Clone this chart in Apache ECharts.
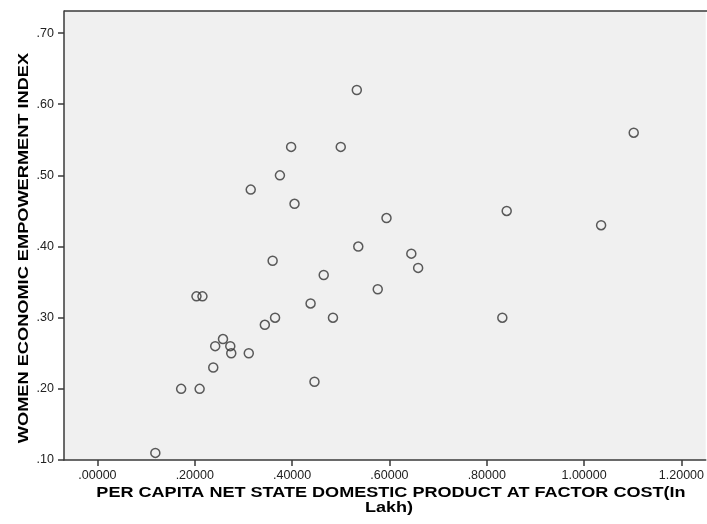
<!DOCTYPE html>
<html>
<head>
<meta charset="utf-8">
<script src="https://cdn.jsdelivr.net/npm/echarts@6/dist/echarts.min.js"></script>
<style>html,body{margin:0;padding:0;background:#fff}#c{width:707px;height:524px}</style>
</head>
<body>
<div id="c"></div>
<script>
const xValues = [0.119,0.172,0.210,0.238,0.242,0.258,0.273,0.275,0.311,0.2035,0.2158,0.344,0.365,0.360,0.438,0.446,0.465,0.484,0.536,0.576,0.645,0.659,0.594,0.405,0.315,0.375,0.398,0.500,0.533,0.841,1.035,1.102,0.832];
const yValues = [0.11,0.20,0.20,0.23,0.26,0.27,0.26,0.25,0.25,0.33,0.33,0.29,0.30,0.38,0.32,0.21,0.36,0.30,0.40,0.34,0.39,0.37,0.44,0.46,0.48,0.50,0.54,0.54,0.62,0.45,0.43,0.56,0.30];
const xTicks = [0,0.2,0.4,0.6,0.8,1.0,1.2];
const yTicks = [0.1,0.2,0.3,0.4,0.5,0.6,0.7];
const xTitle1 = 'PER CAPITA NET STATE DOMESTIC PRODUCT AT FACTOR COST(In';
const xTitle2 = 'Lakh)';
const yTitle = 'WOMEN ECONOMIC EMPOWERMENT INDEX';

const pts = xValues.map((x,i)=>[x,yValues[i]]);
const fmtX = v => { let s = Number(v).toFixed(5); return s.startsWith('0') ? s.slice(1) : s; };
const fmtY = v => { let s = Number(v).toFixed(2); return s.startsWith('0') ? s.slice(1) : s; };
const titleFont = {fontFamily:'Liberation Sans, Arial',fontWeight:'bold',fontSize:14,fill:'#000'};
const chart = echarts.init(document.getElementById('c'));
chart.setOption({
  animation:false,
  backgroundColor:'#fff',
  grid:{left:64,top:11,right:0,bottom:64,show:true,backgroundColor:'#f0f0f0',borderWidth:0},
  xAxis:{
    type:'value',min:-0.0687,max:1.25,
    splitLine:{show:false},
    axisLine:{show:true,onZero:false,lineStyle:{color:'#3a3a3a',width:1.5}},
    axisTick:{show:true,customValues:xTicks,length:6,lineStyle:{color:'#3a3a3a',width:1.5}},
    axisLabel:{customValues:xTicks,formatter:fmtX,color:'#222',fontFamily:'Liberation Sans, Arial',fontSize:12.5,margin:9}
  },
  yAxis:{
    type:'value',min:0.1,max:0.731,
    splitLine:{show:false},
    axisLine:{show:true,onZero:false,lineStyle:{color:'#3a3a3a',width:1.5}},
    axisTick:{show:true,customValues:yTicks,length:6,lineStyle:{color:'#3a3a3a',width:1.5}},
    axisLabel:{customValues:yTicks,formatter:fmtY,color:'#222',fontFamily:'Liberation Sans, Arial',fontSize:12.5,margin:10}
  },
  series:[{
    type:'scatter',data:pts,symbol:'circle',symbolSize:9,
    itemStyle:{color:'transparent',borderColor:'#333',borderWidth:1.5}
  }],
  graphic:[
    {type:'line',shape:{x1:64,y1:11,x2:707,y2:11},style:{stroke:'#3a3a3a',lineWidth:1.5}},
    {type:'text',x:391,y:493,scaleX:1.29,style:Object.assign({text:xTitle1,align:'center',verticalAlign:'middle'},titleFont)},
    {type:'text',x:389,y:508,scaleX:1.29,style:Object.assign({text:xTitle2,align:'center',verticalAlign:'middle'},titleFont)},
    {type:'text',x:24,y:248,rotation:Math.PI/2,scaleX:1.3,style:Object.assign({text:yTitle,align:'center',verticalAlign:'middle'},titleFont)}
  ]
});
</script>
</body>
</html>
